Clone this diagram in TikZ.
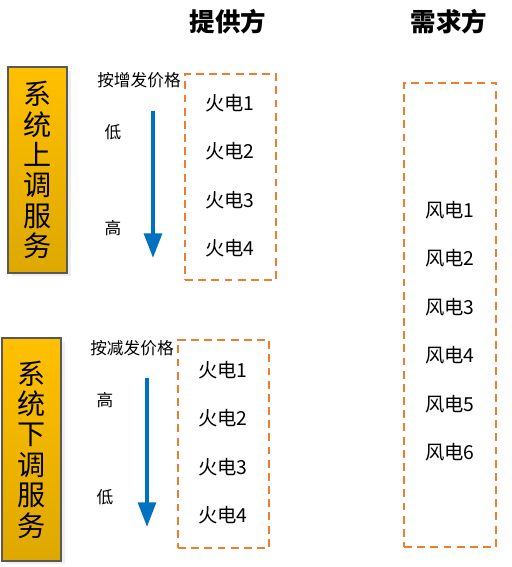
\documentclass[tikz,border=0pt]{standalone}
\usepackage{fontspec}
\setmainfont{Noto Sans CJK SC}
\usepackage{tikz}
\usetikzlibrary{arrows.meta,positioning,shadows}
\usepackage{xcolor}
\definecolor{svcTop}{HTML}{FFC000}
\definecolor{svcBot}{HTML}{DEA800}
\definecolor{dashOrange}{HTML}{ED7D31}
\definecolor{arrBlue}{HTML}{0070C0}

\begin{document}
\begin{tikzpicture}[
    x=0.02cm, y=-0.02cm,
    node distance=0.97cm,
    service/.style={rectangle, draw=black!65, line width=0.7pt, top color=svcTop, bottom color=svcBot, minimum width=1.18cm, align=center, inner sep=0pt, font=\fontsize{16pt}{17.3pt}\selectfont, drop shadow={shadow xshift=2pt, shadow yshift=-2pt, fill=black!12}},
    group/.style={rectangle, draw=dashOrange, line width=1.1pt, dash pattern=on 4.5pt off 3pt, minimum width=1.82cm},
    unit/.style={font=\fontsize{11pt}{13pt}\selectfont, on grid},
    side/.style={font=\fontsize{9.5pt}{11pt}\selectfont},
    title/.style={font=\fontsize{14.5pt}{17pt}\selectfont\bfseries},
    order/.style={-{Triangle[length=14pt, width=10pt]}, line width=2.3pt, color=arrBlue}
]
    \useasboundingbox (0,0) rectangle (511,567);

    % headers
    \node[title] (supply) at (228,22) {提供方};
    \node[title] (demand) at (449,22) {需求方};

    % service boxes
    \node[service, minimum height=4.12cm] (upsvc) at (37.5,170) {系\\统\\上\\调\\服\\务};
    \node[service, minimum height=4.46cm] (downsvc) at (31.5,449.5) {系\\统\\下\\调\\服\\务};

    % up regulation
    \node[side] (uprule) at (139,80) {按增发价格};
    \node[side] (uplow) at (113,132) {低};
    \node[side] (uphigh) at (113,228) {高};
    \coordinate (upstart) at (153,111);
    \coordinate (upend) at (153,258);
    \draw[order] (upstart) -- (upend);
    \node[group, minimum height=4.12cm] (upgrp) at (230.5,177) {};
    \node[unit] (up1) at (230,103) {火电1};
    \node[unit, below=of up1] (up2) {火电2};
    \node[unit, below=of up2] (up3) {火电3};
    \node[unit, below=of up3] (up4) {火电4};

    % down regulation
    \node[side] (dnrule) at (132,348) {按减发价格};
    \node[side] (dnhigh) at (105,400) {高};
    \node[side] (dnlow) at (105,497) {低};
    \coordinate (dnstart) at (147,378);
    \coordinate (dnend) at (147,527);
    \draw[order] (dnstart) -- (dnend);
    \node[group, minimum height=4.16cm] (dngrp) at (223.5,444) {};
    \node[unit] (dn1) at (223,370) {火电1};
    \node[unit, below=of dn1] (dn2) {火电2};
    \node[unit, below=of dn2] (dn3) {火电3};
    \node[unit, below=of dn3] (dn4) {火电4};

    % wind side
    \node[group, minimum width=1.84cm, minimum height=9.28cm] (windgrp) at (450,315) {};
    \node[unit] (w1) at (450,210) {风电1};
    \node[unit, below=of w1] (w2) {风电2};
    \node[unit, below=of w2] (w3) {风电3};
    \node[unit, below=of w3] (w4) {风电4};
    \node[unit, below=of w4] (w5) {风电5};
    \node[unit, below=of w5] (w6) {风电6};
\end{tikzpicture}
\end{document}
